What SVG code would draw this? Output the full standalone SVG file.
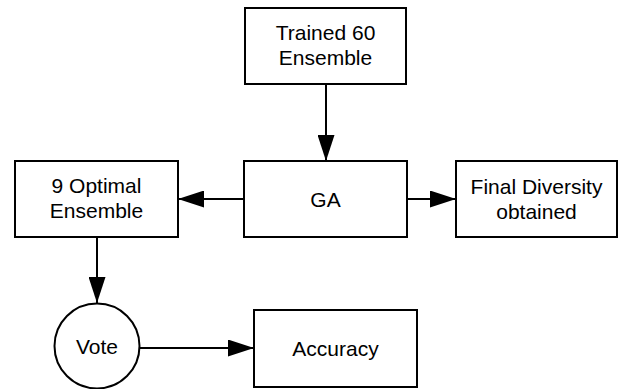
<svg xmlns="http://www.w3.org/2000/svg" width="618" height="389" viewBox="0 0 618 389">
<defs>
<marker id="ah" markerUnits="userSpaceOnUse" markerWidth="26" markerHeight="17" refX="26" refY="8.5" orient="auto">
<path d="M0,0 L26,8.5 L0,17 Z" fill="#000"/>
</marker>
<style>
.box{fill:#fff;stroke:#000;stroke-width:2}
.t{font-family:"Liberation Sans",Arial,sans-serif;font-size:21px;fill:#000;text-anchor:middle}
.c{stroke:#000;stroke-width:2;fill:none;marker-end:url(#ah)}
</style>
</defs>
<rect width="618" height="389" fill="#fff"/>
<g id="connectors">
<line class="c" x1="326" y1="84" x2="326" y2="161"/>
<line class="c" x1="244" y1="199" x2="178" y2="199"/>
<line class="c" x1="407" y1="199" x2="456" y2="199"/>
<line class="c" x1="97" y1="237" x2="97" y2="303"/>
<line class="c" x1="140" y1="348" x2="254" y2="348"/>
</g>
<g id="trained">
<rect class="box" x="245" y="8" width="161" height="76"/>
<text class="t" x="325.5" y="40">Trained 60</text>
<text class="t" x="325.5" y="65">Ensemble</text>
</g>
<g id="ga">
<rect class="box" x="244" y="161" width="163" height="76"/>
<text class="t" x="325.5" y="206.5">GA</text>
</g>
<g id="optimal">
<rect class="box" x="15" y="161" width="163" height="76"/>
<text class="t" x="96.5" y="193">9 Optimal</text>
<text class="t" x="96.5" y="218">Ensemble</text>
</g>
<g id="final">
<rect class="box" x="456" y="161" width="161" height="76"/>
<text class="t" x="536.5" y="194">Final Diversity</text>
<text class="t" x="536.5" y="219">obtained</text>
</g>
<g id="vote">
<circle class="box" cx="97" cy="346" r="42.5"/>
<text class="t" x="97" y="353.5">Vote</text>
</g>
<g id="accuracy">
<rect class="box" x="254" y="310" width="163" height="77"/>
<text class="t" x="335.5" y="355.5">Accuracy</text>
</g>
</svg>
